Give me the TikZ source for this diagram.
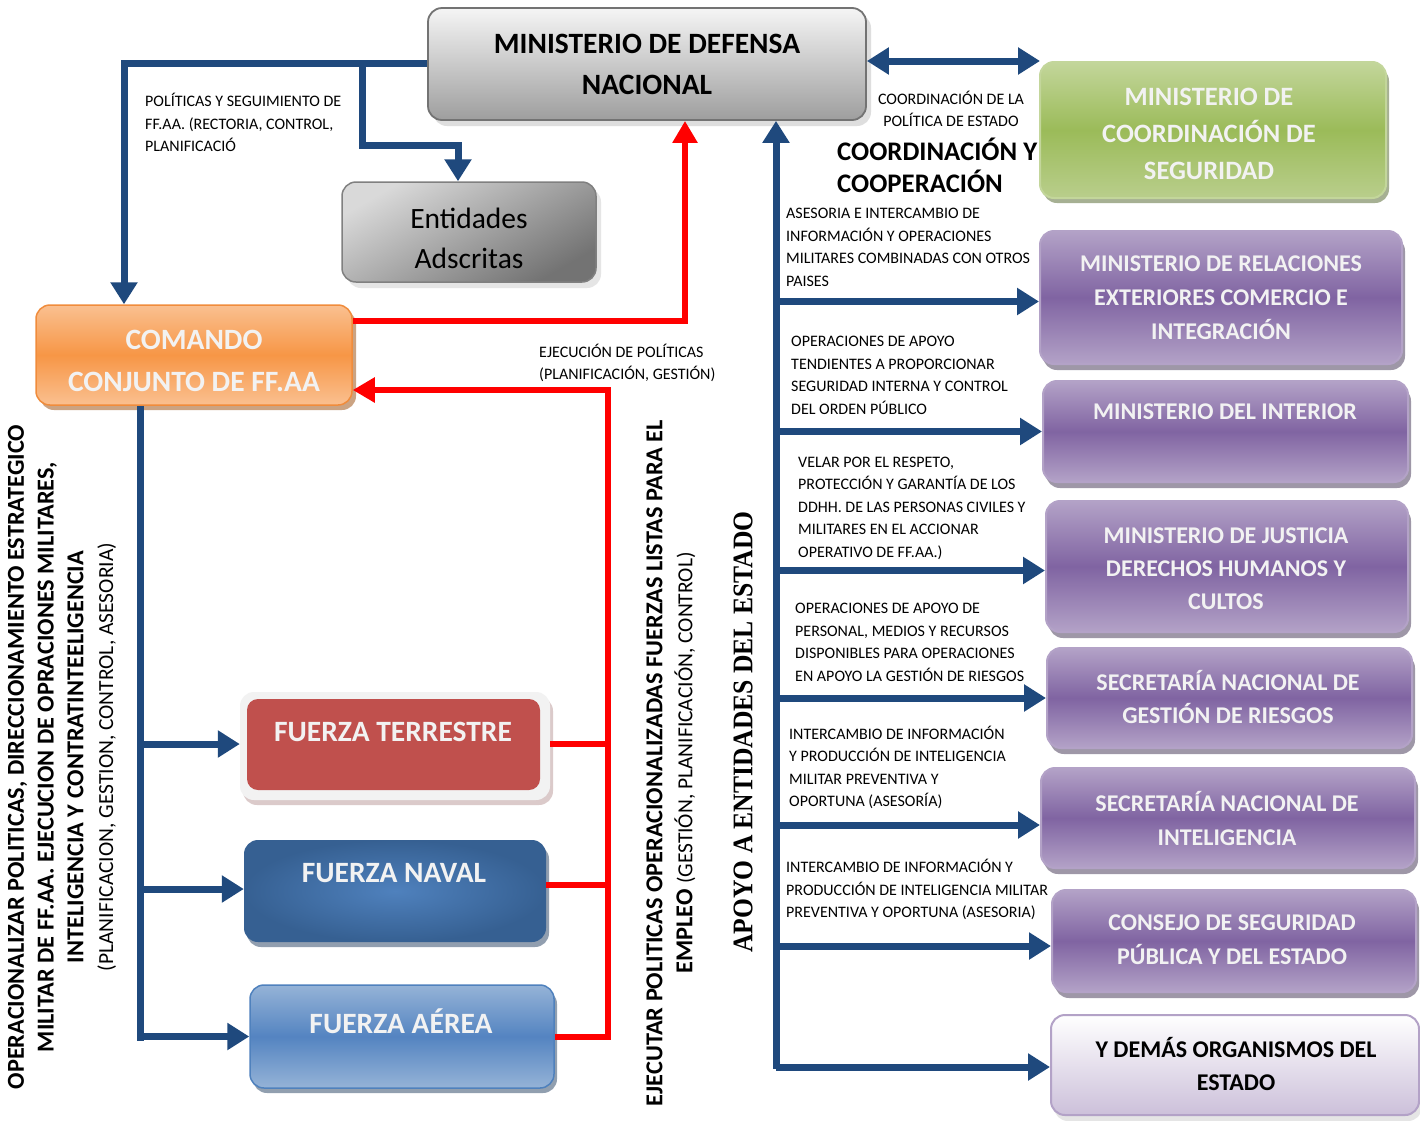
\documentclass[tikz,border=0pt]{standalone}
\usepackage{fontspec}
\setmainfont{Carlito}
\newfontfamily\serifbold[FakeStretch=0.9]{Liberation Serif}
\usetikzlibrary{arrows.meta,shadows,calc}
\definecolor{cblue}{HTML}{1F497D}
\definecolor{cred}{HTML}{FF0000}
\definecolor{purtop}{HTML}{B3A2C7}
\definecolor{purmid}{HTML}{8064A2}
\definecolor{purdark}{HTML}{3F3151}
\definecolor{txtw}{HTML}{F2F2F2}
\tikzset{
  box/.style={rounded corners=14pt, align=center, inner sep=0pt},
  mdnbox/.style={box, draw=black!55, line width=1.8pt, top color=black!4, bottom color=black!38,
     drop shadow={shadow xshift=5pt, shadow yshift=-6pt, fill=black!25}},
  entbox/.style={box, draw=black!50, line width=1.5pt, top color=black!15, bottom color=black!55, shading angle=30,
     drop shadow={shadow xshift=5pt, shadow yshift=-6pt, fill=black!20}},
  combox/.style={box, draw={rgb,255:red,240;green,140;blue,60}, line width=1.5pt, top color={rgb,255:red,250;green,192;blue,144},
     bottom color={rgb,255:red,250;green,192;blue,144}, middle color={rgb,255:red,247;green,150;blue,70},
     drop shadow={shadow xshift=4pt, shadow yshift=-5pt, fill={rgb,255:red,152;green,72;blue,7}}},
  grnbox/.style={box, draw={rgb,255:red,195;green,214;blue,155}, line width=2pt, top color={rgb,255:red,195;green,214;blue,155},
     bottom color={rgb,255:red,185;green,206;blue,140}, middle color={rgb,255:red,155;green,187;blue,89},
     drop shadow={shadow xshift=3pt, shadow yshift=-5pt, fill={rgb,255:red,79;green,98;blue,40}}},
  purbox/.style={box, draw=purtop, line width=2pt, top color=purtop, bottom color=purtop, middle color=purmid,
     drop shadow={shadow xshift=3pt, shadow yshift=-6pt, fill=purdark}},
  dembox/.style={box, draw=purtop, line width=2pt, top color=white, bottom color={rgb,255:red,204;green,192;blue,218},
     drop shadow={shadow xshift=3pt, shadow yshift=-6pt, fill=black!20}},
  wtitle/.style={align=center, inner sep=0pt, font=\bfseries\fontsize{24}{34}\selectfont, text=txtw},
  btitle/.style={align=center, inner sep=0pt, font=\bfseries\fontsize{29.5}{41}\selectfont},
  lbl/.style={align=left, inner sep=0pt, anchor=west, font=\fontsize{16}{22.5}\selectfont},
  bline/.style={draw=cblue, line width=7pt},
  barrow/.style={draw=cblue, line width=7pt, -{Triangle[width=26pt,length=22pt]}},
  bdarrow/.style={draw=cblue, line width=7pt, {Triangle[width=26pt,length=22pt]}-{Triangle[width=26pt,length=22pt]}},
  rline/.style={draw=cred, line width=6pt},
  rarrow/.style={draw=cred, line width=6pt, -{Triangle[width=24pt,length=22pt]}},
}
\begin{document}
\begin{tikzpicture}[x=1pt,y=-1pt]
\useasboundingbox (0,0) rectangle (1420,1120);
\fill[white] (0,0) rectangle (1420,1120);

% ---------- boxes ----------
\node[mdnbox, minimum width=438pt, minimum height=112pt] (mdn) at (647,64) {};
\node[btitle] (mdnl) at (647,64) {MINISTERIO DE DEFENSA\\NACIONAL};
\node[entbox, minimum width=254pt, minimum height=100pt] (ent) at (469,232) {};
\node[align=center, inner sep=0pt, font=\fontsize{29.5}{40}\selectfont] (entl) at (469,238) {Entidades\\Adscritas};
\node[combox, minimum width=316pt, minimum height=100pt] (coma) at (194,355) {};
\node[btitle, text=txtw, font=\bfseries\fontsize{29.5}{42}\selectfont] (comal) at (194,361) {COMANDO\\CONJUNTO DE FF.AA};

\node[box, minimum width=310pt, minimum height=108pt, fill=black!5, drop shadow={shadow xshift=3pt, shadow yshift=-5pt, fill={rgb,255:red,185;green,150;blue,150}}] (ter) at (395,746) {};
\node[box, rounded corners=11pt, minimum width=293pt, minimum height=91pt, fill={rgb,255:red,192;green,80;blue,77}] (terin) at (393.5,744.5) {};
\node[btitle, text=txtw] (terl) at (393,732) {FUERZA TERRESTRE};

\node[box, minimum width=302pt, minimum height=102pt, inner color={rgb,255:red,79;green,129;blue,189}, outer color={rgb,255:red,54;green,96;blue,146},
   drop shadow={shadow xshift=3pt, shadow yshift=-5pt, fill={rgb,255:red,36;green,63;blue,96}}] (nav) at (395,891) {};
\node[btitle, text=txtw] (navl) at (394,873) {FUERZA NAVAL};

\node[box, minimum width=304pt, minimum height=103pt, draw={rgb,255:red,79;green,129;blue,189}, line width=1.5pt,
   top color={rgb,255:red,149;green,179;blue,215}, bottom color={rgb,255:red,149;green,179;blue,215}, middle color={rgb,255:red,84;green,132;blue,193},
   drop shadow={shadow xshift=3pt, shadow yshift=-5pt, fill={rgb,255:red,37;green,64;blue,97}}] (air) at (402,1036.5) {};
\node[btitle, text=txtw] (airl) at (401,1021) {FUERZA AÉREA};

\node[grnbox, minimum width=346pt, minimum height=136pt] (mcs) at (1213,130) {};
\node[wtitle, font=\bfseries\fontsize{26.5}{37}\selectfont] (mcsl) at (1209,134) {MINISTERIO DE\\COORDINACIÓN DE\\SEGURIDAD};

\node[purbox, minimum width=362pt, minimum height=133pt] (rel) at (1221,297.5) {};
\node[wtitle] (rell) at (1221,298) {MINISTERIO DE RELACIONES\\EXTERIORES COMERCIO E\\INTEGRACIÓN};
\node[purbox, minimum width=365pt, minimum height=101pt] (int) at (1225.5,431.5) {};
\node[wtitle] (intl) at (1225,412) {MINISTERIO DEL INTERIOR};
\node[purbox, minimum width=362pt, minimum height=131pt] (jus) at (1227,566.5) {};
\node[wtitle, font=\bfseries\fontsize{24}{33}\selectfont] (jusl) at (1226,569) {MINISTERIO DE JUSTICIA\\DERECHOS HUMANOS Y\\CULTOS};
\node[purbox, minimum width=365pt, minimum height=100pt] (sngr) at (1229.5,698) {};
\node[wtitle, font=\bfseries\fontsize{24}{33}\selectfont] (sngrl) at (1228,697) {SECRETARÍA NACIONAL DE\\GESTIÓN DE RIESGOS};
\node[purbox, minimum width=374pt, minimum height=100pt] (sni) at (1228,818) {};
\node[wtitle] (snil) at (1227,818) {SECRETARÍA NACIONAL DE\\INTELIGENCIA};
\node[purbox, minimum width=364pt, minimum height=102pt] (con) at (1234,941) {};
\node[wtitle] (conl) at (1232,940) {CONSEJO DE SEGURIDAD\\PÚBLICA Y DEL ESTADO};
\node[dembox, minimum width=368pt, minimum height=100pt] (dem) at (1235,1065) {};
\node[align=center, inner sep=0pt, font=\bfseries\fontsize{24}{33}\selectfont] (deml) at (1236,1064) {Y DEMÁS ORGANISMOS DEL\\ESTADO};

% ---------- labels ----------
\node[lbl] (l1) at (145,122.5) {POLÍTICAS Y SEGUIMIENTO DE\\FF.AA. (RECTORIA, CONTROL,\\PLANIFICACIÓ};
\node[align=center, inner sep=0pt, font=\fontsize{16}{22}\selectfont] (l2) at (951,109) {COORDINACIÓN DE LA\\POLÍTICA DE ESTADO};
\node[lbl, font=\bfseries\fontsize{26.8}{32}\selectfont] (l3) at (837,165) {COORDINACIÓN Y\\COOPERACIÓN};
\node[lbl] (l4) at (786,247.5) {ASESORIA E INTERCAMBIO DE\\INFORMACIÓN Y OPERACIONES\\MILITARES COMBINADAS CON OTROS\\PAISES};
\node[lbl] (l5) at (791,375.5) {OPERACIONES DE APOYO\\TENDIENTES A PROPORCIONAR\\SEGURIDAD INTERNA Y CONTROL\\DEL ORDEN PÚBLICO};
\node[lbl] (l6) at (798,508) {VELAR POR EL RESPETO,\\PROTECCIÓN Y GARANTÍA DE LOS\\DDHH. DE LAS PERSONAS CIVILES Y\\MILITARES EN EL ACCIONAR\\OPERATIVO DE FF.AA.)};
\node[lbl] (l7) at (795,642.5) {OPERACIONES DE APOYO DE\\PERSONAL, MEDIOS Y RECURSOS\\DISPONIBLES PARA OPERACIONES\\EN APOYO LA GESTIÓN DE RIESGOS};
\node[lbl] (l8) at (789,767.5) {INTERCAMBIO DE INFORMACIÓN\\Y PRODUCCIÓN DE INTELIGENCIA\\MILITAR PREVENTIVA Y\\OPORTUNA (ASESORÍA)};
\node[lbl] (l9) at (786,889.5) {INTERCAMBIO DE INFORMACIÓN Y\\PRODUCCIÓN DE INTELIGENCIA MILITAR\\PREVENTIVA Y OPORTUNA (ASESORIA)};
\node[lbl] (l10) at (539,363) {EJECUCIÓN DE POLÍTICAS\\(PLANIFICACIÓN, GESTIÓN)};

\node[rotate=90, align=center, inner sep=0pt, font=\bfseries\fontsize{24.3}{29.7}\selectfont] (r1) at (62,757)
  {OPERACIONALIZAR POLITICAS, DIRECCIONAMIENTO ESTRATEGICO\\MILITAR DE FF.AA. EJECUCION DE OPRACIONES MILITARES,\\INTELIGENCIA Y CONTRATINTEELIGENCIA\\{\mdseries\fontsize{21.5}{29.7}\selectfont (PLANIFICACION, GESTION, CONTROL, ASESORIA)}};
\node[rotate=90, align=center, inner sep=0pt, font=\fontsize{24.3}{30}\selectfont] (r2) at (671,763)
  {\textbf{EJECUTAR POLITICAS OPERACIONALIZADAS FUERZAS LISTAS PARA EL}\\\textbf{EMPLEO} {\fontsize{21.5}{30}\selectfont(GESTIÓN, PLANIFICACIÓN, CONTROL)}};
\node[rotate=90, inner sep=0pt, font=\serifbold\bfseries\fontsize{28.4}{30}\selectfont] (r3) at (743,732) {APOYO A ENTIDADES DEL ESTADO};

% ---------- connectors ----------
\coordinate (c124) at (124,0);
\coordinate (c140) at (140,0);
\coordinate (c776) at (776,0);
\coordinate (j1) at (362,63);
\draw[barrow] ([yshift=1pt]mdn.west) -| (coma.north -| c124);
\draw[barrow] (j1) -- (362,145) -| ([xshift=-11pt]ent.north);
\coordinate (mcsend) at (1040,61);
\draw[bdarrow] (mdn.east |- mcsend) -- (mcsend);

\draw[rarrow] ([yshift=34pt]coma.east) -| ([xshift=38pt]mdn.south);
\draw[rline] ([yshift=2pt]ter.east) -- (608,744);
\draw[rline] ([yshift=6pt]nav.east) -- (608,885);
\draw[rline] (air.east) -- (608,1036.5);
\draw[rarrow] (608,1039.5) -- (608,390) -- ([yshift=-35pt]coma.east);

\draw[bline] (coma.south -| c140) -- (140,1040.5);
\draw[barrow] (140,744) -- ([yshift=2pt]ter.west);
\draw[barrow] (140,889) -- ([yshift=2pt]nav.west);
\draw[barrow] (140,1036.5) -- (air.west);

\draw[barrow] (776,1068.5) -- ([xshift=129pt]mdn.south);
\draw[barrow] ([yshift=-4pt]rel.west -| c776) -- ([yshift=-4pt]rel.west);
\draw[barrow] (int.west -| c776) -- (int.west);
\draw[barrow] ([yshift=-4pt]jus.west -| c776) -- ([yshift=-4pt]jus.west);
\draw[barrow] (sngr.west -| c776) -- (sngr.west);
\draw[barrow] ([yshift=-7pt]sni.west -| c776) -- ([yshift=-7pt]sni.west);
\draw[barrow] ([yshift=-5pt]con.west -| c776) -- ([yshift=-5pt]con.west);
\draw[barrow] ([yshift=-2pt]dem.west -| c776) -- ([yshift=-2pt]dem.west);
\end{tikzpicture}
\end{document}
